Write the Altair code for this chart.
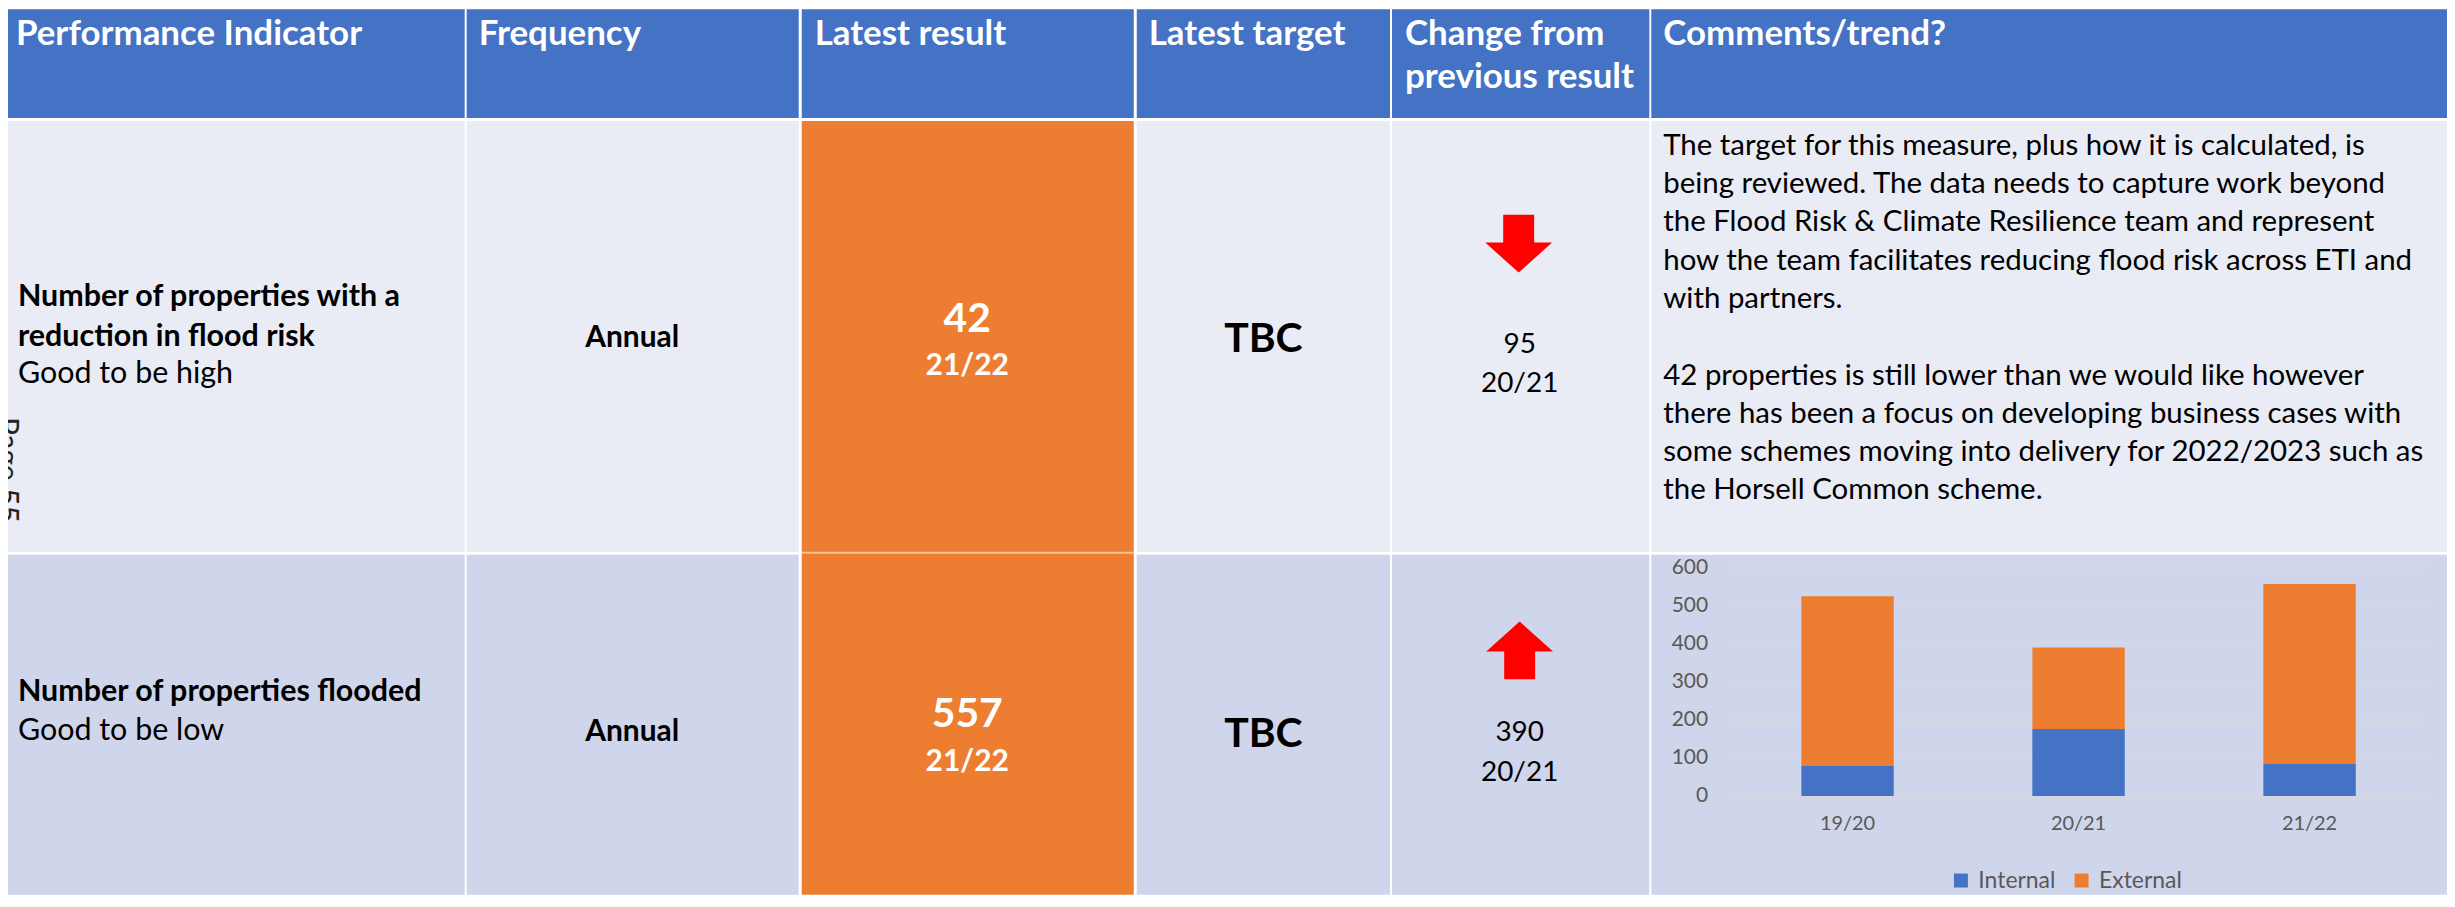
import altair as alt
import pandas as pd

FONT = "Lato"

# ---------------- data ----------------
headers = ["Performance Indicator", "Frequency", "Latest result", "Latest target",
           "Change from\nprevious result", "Comments/trend?"]
indicators = ["Number of properties with a\nreduction in flood risk", "Number of properties flooded"]
polarity = ["Good to be high", "Good to be low"]
frequency = ["Annual", "Annual"]
latest = [42, 557]
latest_period = ["21/22", "21/22"]
target = ["TBC", "TBC"]
previous = [95, 390]
previous_period = ["20/21", "20/21"]
comment_para1 = [
    "The target for this measure, plus how it is calculated, is",
    "being reviewed. The data needs to capture work beyond",
    "the Flood Risk & Climate Resilience team and represent",
    "how the team facilitates reducing flood risk across ETI and",
    "with partners.",
]
comment_para2 = [
    "42 properties is still lower than we would like however",
    "there has been a focus on developing business cases with",
    "some schemes moving into delivery for 2022/2023 such as",
    "the Horsell Common scheme.",
]
years = ["19/20", "20/21", "21/22"]
series = ["Internal", "External"]
internal = [79, 176, 84]
external = [446, 214, 473]
y_ticks = [0, 100, 200, 300, 400, 500, 600]
page_label = "Page 55"

# ---------------- styles ----------------
BLUE = "#4472C4"
ORANGE = "#ED7D31"
ROW1 = "#E9EBF5"
ROW2 = "#CFD5EA"
GREY = "#595959"
RED = "#FF0000"

COLW = [458, 333, 333, 254, 258, 798]
HEAD_H, ROW1_H, ROW2_H = 109, 432, 341
VSP = 3
COL6_X = sum(COLW[:5]) + 2 * 5      # left of the comments column inside the chart
ROW2_Y = HEAD_H + VSP + ROW1_H + VSP

DOWN = "M-0.463,-0.866 L0.463,-0.866 L0.463,-0.03 L1,-0.03 L0,0.866 L-1,-0.03 L-0.463,-0.03 Z"
UP = "M-0.463,0.866 L0.463,0.866 L0.463,0.03 L1,0.03 L0,-0.866 L-1,0.03 L-0.463,0.03 Z"


def txt(s, x, y, size, weight="normal", color="black", align="left", lh=None, angle=None, clip=False):
    kw = dict(font=FONT, fontSize=size, fontWeight=weight, color=color, align=align,
              baseline="alphabetic", lineBreak="\n")
    if lh is not None:
        kw["lineHeight"] = lh
    if angle is not None:
        kw["angle"] = angle
    if clip:
        kw["clip"] = True
    return alt.Chart(pd.DataFrame({"t": [s]})).mark_text(**kw).encode(
        text="t:N", x=alt.value(x), y=alt.value(y))


def cell(layers, w, h, fill):
    return alt.layer(*layers).properties(
        width=w, height=h, view=alt.ViewBackground(fill=fill, strokeWidth=0))


def arrow(i, x, y):
    direction = "up" if latest[i] > previous[i] else "down"
    return alt.Chart(pd.DataFrame({"dir": [direction]})).mark_point(
        filled=True, color=RED, size=4489, strokeWidth=0, opacity=1).encode(
        x=alt.value(x), y=alt.value(y),
        shape=alt.Shape("dir:N", scale=alt.Scale(domain=["down", "up"], range=[DOWN, UP]), legend=None))


def header(i, x, lh=None):
    return cell([txt(headers[i], x, 36, 35, "bold", "white", lh=lh)], COLW[i], HEAD_H, BLUE)


# ---------------- column 1 ----------------
col1 = alt.vconcat(
    header(0, 8),
    cell([
        txt(indicators[0], 10, 186, 30.5, "bold", lh=40),
        txt(polarity[0], 10, 263, 30.5),
        txt(page_label, -11, 350, 30, color="#222222", align="center", angle=90, clip=True),
    ], COLW[0], ROW1_H, ROW1),
    cell([
        txt(indicators[1], 10, 147, 30.5, "bold"),
        txt(polarity[1], 10, 186, 30.5),
    ], COLW[0], ROW2_H, ROW2),
    spacing=VSP,
)

# ---------------- column 2 ----------------
col2 = alt.vconcat(
    header(1, 12),
    cell([txt(frequency[0], 166, 227, 30, "bold", align="center")], COLW[1], ROW1_H, ROW1),
    cell([txt(frequency[1], 166, 187, 30, "bold", align="center")], COLW[1], ROW2_H, ROW2),
    spacing=VSP,
)

# ---------------- column 3 (latest result, orange) ----------------
tall_h = ROW1_H + VSP + ROW2_H
sep = alt.Chart(pd.DataFrame({"k": [0]})).mark_rule(color="#F6C3A0", strokeWidth=2).encode(
    y=alt.value(ROW1_H + 1), x=alt.value(0), x2=alt.value(COLW[2]))
col3 = alt.vconcat(
    header(2, 13),
    cell([
        sep,
        txt(str(latest[0]), 166, 212, 41, "bold", "white", align="center"),
        txt(latest_period[0], 166, 255, 30, "bold", "white", align="center"),
        txt(str(latest[1]), 166, 608, 41, "bold", "white", align="center"),
        txt(latest_period[1], 166, 652, 30, "bold", "white", align="center"),
    ], COLW[2], tall_h, ORANGE),
    spacing=VSP,
)

# ---------------- column 4 ----------------
col4 = alt.vconcat(
    header(3, 12),
    cell([txt(target[0], 127, 232, 41, "bold", align="center")], COLW[3], ROW1_H, ROW1),
    cell([txt(target[1], 127, 193, 41, "bold", align="center")], COLW[3], ROW2_H, ROW2),
    spacing=VSP,
)

# ---------------- column 5 ----------------
col5 = alt.vconcat(
    header(4, 13, lh=43),
    cell([
        arrow(0, 127, 123),
        txt(f"{previous[0]}\n{previous_period[0]}", 128, 233, 28, align="center", lh=39),
    ], COLW[4], ROW1_H, ROW1),
    cell([
        arrow(1, 128, 96),
        txt(f"{previous[1]}\n{previous_period[1]}", 128, 187, 28, align="center", lh=40),
    ], COLW[4], ROW2_H, ROW2),
    spacing=VSP,
)

# ---------------- column 6 (comments + chart) ----------------
bars_df = pd.DataFrame({
    "year": years * 2,
    "series": [series[0]] * 3 + [series[1]] * 3,
    "value": internal + external,
    "order": [0] * 3 + [1] * 3,
})
ticks_df = pd.DataFrame({"tick": y_ticks})
years_df = pd.DataFrame({"year": years})

xs = alt.Scale(domain=years, range=[81, 776], paddingInner=0.6, paddingOuter=0.3)
ys = alt.Scale(domain=[0, 600], range=[242, 13], nice=False, zero=True)

grid = alt.Chart(ticks_df).mark_rule(color="#D9D9D9", strokeWidth=1.5).encode(
    y=alt.Y("tick:Q", scale=ys, axis=None), x=alt.value(81), x2=alt.value(776))
bars = alt.Chart(bars_df).mark_bar().encode(
    x=alt.X("year:N", scale=xs, axis=None, sort=years),
    y=alt.Y("value:Q", scale=ys, axis=None, stack="zero"),
    color=alt.Color("series:N", scale=alt.Scale(domain=series, range=[BLUE, ORANGE]),
                    legend=alt.Legend(title=None, orient="none",
                                      legendX=COL6_X + 301, legendY=ROW2_Y + 315,
                                      direction="horizontal", symbolType="square", symbolSize=196,
                                      symbolStrokeWidth=0, labelFont=FONT, labelFontSize=23,
                                      labelColor=GREY, columnPadding=14, labelOffset=6)),
    order=alt.Order("order:Q"),
)
ylabels = alt.Chart(ticks_df).mark_text(font=FONT, fontSize=21, color=GREY, align="right",
                                         baseline="middle").encode(
    y=alt.Y("tick:Q", scale=ys, axis=None), x=alt.value(57), text="tick:Q")
xlabels = alt.Chart(years_df).mark_text(font=FONT, fontSize=20, color=GREY, align="center",
                                         baseline="middle").encode(
    x=alt.X("year:N", scale=xs, axis=None, sort=years), y=alt.value(270), text="year:N")

LH = 38.4
col6 = alt.vconcat(
    header(5, 12),
    cell([
        txt("\n".join(comment_para1), 12, 34, 29.5, lh=LH),
        txt("\n".join(comment_para2), 12, 34 + 6 * LH, 29.5, lh=LH),
    ], COLW[5], ROW1_H, ROW1),
    cell([grid, bars, ylabels, xlabels], COLW[5], ROW2_H, ROW2),
    spacing=VSP,
)

chart = alt.hconcat(col1, col2, col3, col4, col5, col6, spacing=2, padding=0,
                    background="white").configure_view(strokeWidth=0)

chart.save("out.html", embed_options={"renderer": "svg", "actions": False})
